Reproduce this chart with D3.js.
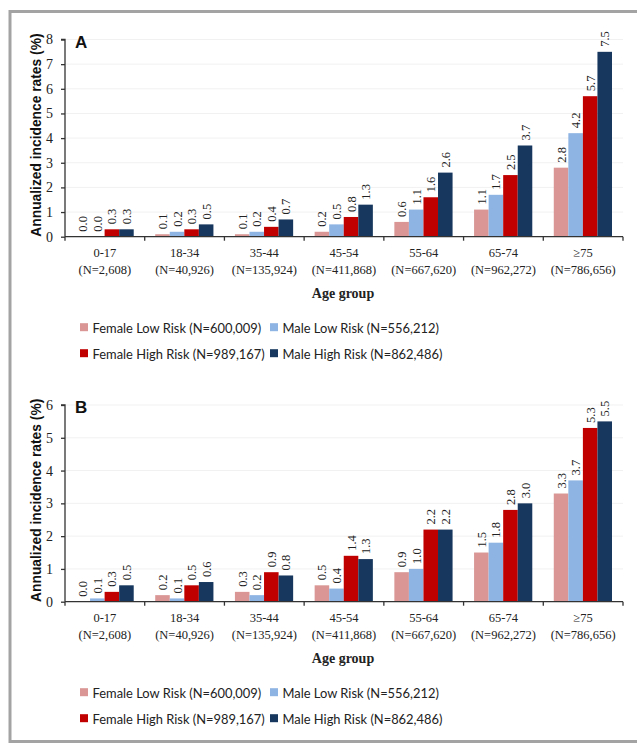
<!DOCTYPE html>
<html>
<head>
<meta charset="utf-8">
<script src="https://cdn.jsdelivr.net/npm/d3@7"></script>
<style>
  html, body { margin: 0; padding: 0; background: #fff; }
  svg { display: block; }
  .tick-label, .value-label, .axis-title-x { font-family: "Liberation Serif", "Times New Roman", serif; fill: #222; }
  .axis-title-y, .panel-letter { font-family: "Liberation Sans", Arial, sans-serif; font-weight: bold; fill: #111; }
  .legend-label { font-family: Lato, "Liberation Sans", sans-serif; fill: #222; }
</style>
</head>
<body>
<svg id="chart" width="637" height="743"></svg>
<script>
// Incidence rates by age group, two panels (A and B)

var ageGroups = ["0-17", "18-34", "35-44", "45-54", "55-64", "65-74", "\u226575"];
var groupNs = ["(N=2,608)", "(N=40,926)", "(N=135,924)", "(N=411,868)",
               "(N=667,620)", "(N=962,272)", "(N=786,656)"];

var seriesNames = [
  "Female Low Risk (N=600,009)",
  "Male Low Risk (N=556,212)",
  "Female High Risk (N=989,167)",
  "Male High Risk (N=862,486)"
];
var seriesColors = ["#d99694", "#8eb4e3", "#c00000", "#17375e"];

// Panel A values, one array per series
var aFemaleLow  = [0.0, 0.1, 0.1, 0.2, 0.6, 1.1, 2.8];
var aMaleLow    = [0.0, 0.2, 0.2, 0.5, 1.1, 1.7, 4.2];
var aFemaleHigh = [0.3, 0.3, 0.4, 0.8, 1.6, 2.5, 5.7];
var aMaleHigh   = [0.3, 0.5, 0.7, 1.3, 2.6, 3.7, 7.5];
var aTicks = [0, 1, 2, 3, 4, 5, 6, 7, 8];

// Panel B values
var bFemaleLow  = [0.0, 0.2, 0.3, 0.5, 0.9, 1.5, 3.3];
var bMaleLow    = [0.1, 0.1, 0.2, 0.4, 1.0, 1.8, 3.7];
var bFemaleHigh = [0.3, 0.5, 0.9, 1.4, 2.2, 2.8, 5.3];
var bMaleHigh   = [0.5, 0.6, 0.8, 1.3, 2.2, 3.0, 5.5];
var bTicks = [0, 1, 2, 3, 4, 5, 6];

var svg = d3.select("#chart");

// grey frame around the whole figure
svg.append("rect")
  .attr("x", 10).attr("y", 11.5)
  .attr("width", 640).attr("height", 730)
  .attr("fill", "none")
  .attr("stroke", "#a3a3a3")
  .attr("stroke-width", 3);

var plotLeft = 65, plotRight = 623;

function drawPanel(opts) {
  var g = svg.append("g");
  var top = opts.top, bottom = opts.bottom;

  var x = d3.scaleBand().domain(ageGroups).range([plotLeft, plotRight]);
  var xs = d3.scaleBand().domain(d3.range(seriesNames.length))
    .range([10.5, x.bandwidth() - 11]);
  var y = d3.scaleLinear().domain([0, d3.max(opts.ticks)]).range([bottom, top]);

  // faint gridlines
  g.selectAll("line.grid")
    .data(opts.ticks.slice(1))
    .enter().append("line")
      .attr("class", "grid")
      .attr("x1", plotLeft).attr("x2", plotRight)
      .attr("y1", function(d) { return y(d); })
      .attr("y2", function(d) { return y(d); })
      .attr("stroke", "#f1f1f1");

  // bars
  var groups = g.selectAll("g.group")
    .data(ageGroups)
    .enter().append("g")
      .attr("class", "group")
      .attr("transform", function(d) { return "translate(" + x(d) + ",0)"; });

  groups.each(function(age, i) {
    var rows = opts.series.map(function(s, k) { return { k: k, v: s[i] }; });
    var gs = d3.select(this);
    gs.selectAll("rect")
      .data(rows)
      .enter().append("rect")
        .attr("x", function(d) { return xs(d.k); })
        .attr("width", xs.bandwidth())
        .attr("y", function(d) { return y(d.v); })
        .attr("height", function(d) { return y(0) - y(d.v); })
        .attr("fill", function(d) { return seriesColors[d.k]; });

    // value labels, rotated to read bottom-up
    gs.selectAll("text.value-label")
      .data(rows)
      .enter().append("text")
        .attr("class", "value-label")
        .attr("font-size", 12.5)
        .attr("text-anchor", "start")
        .attr("transform", function(d) {
          var cx = xs(d.k) + xs.bandwidth() / 2;
          return "translate(" + (cx + 4.5) + "," + (y(d.v) - 5) + ") rotate(-90)";
        })
        .text(function(d) { return d3.format(".1f")(d.v); });
  });

  // y axis
  var yAxis = d3.axisLeft(y).tickValues(opts.ticks)
    .tickFormat(d3.format("d"))
    .tickSize(4).tickPadding(8);
  var ya = g.append("g")
    .attr("transform", "translate(" + plotLeft + ",0)")
    .call(yAxis)
    .attr("font-family", null);
  ya.select(".domain").attr("stroke", "#333").attr("stroke-width", 1.3)
    .attr("d", "M-4," + top + "H0V" + bottom);
  ya.selectAll(".tick line").attr("stroke", "#333").attr("stroke-width", 1.3);
  ya.selectAll(".tick text")
    .attr("class", "tick-label")
    .style("font-family", "'Liberation Serif', 'Times New Roman', serif")
    .attr("font-size", 14)
    .attr("fill", "#333");

  // x axis: baseline with ticks at band boundaries
  g.append("line")
    .attr("x1", plotLeft).attr("x2", plotRight)
    .attr("y1", bottom).attr("y2", bottom)
    .attr("stroke", "#333").attr("stroke-width", 1.3);
  var edges = ageGroups.map(function(d) { return x(d); }).concat([plotRight]);
  g.selectAll("line.xtick")
    .data(edges)
    .enter().append("line")
      .attr("class", "xtick")
      .attr("x1", function(d) { return d; }).attr("x2", function(d) { return d; })
      .attr("y1", bottom).attr("y2", bottom + 4)
      .attr("stroke", "#333").attr("stroke-width", 1.3);

  g.selectAll("text.cat")
    .data(ageGroups)
    .enter().append("text")
      .attr("class", "tick-label cat")
      .attr("font-size", 12.5)
      .attr("text-anchor", "middle")
      .attr("x", function(d) { return x(d) + x.bandwidth() / 2; })
      .attr("y", bottom + 20.5)
      .text(function(d) { return d; });

  g.selectAll("text.ncount")
    .data(groupNs)
    .enter().append("text")
      .attr("class", "tick-label ncount")
      .attr("font-size", 12.5)
      .attr("text-anchor", "middle")
      .attr("x", function(d, i) { return x(ageGroups[i]) + x.bandwidth() / 2; })
      .attr("y", bottom + 37.5)
      .text(function(d) { return d; });

  g.append("text")
    .attr("class", "axis-title-x")
    .attr("font-size", 14)
    .attr("font-weight", "bold")
    .attr("text-anchor", "middle")
    .attr("x", (plotLeft + plotRight) / 2 - 1)
    .attr("y", bottom + 61.5)
    .text("Age group");

  g.append("text")
    .attr("class", "axis-title-y")
    .attr("font-size", 13.8)
    .attr("text-anchor", "middle")
    .attr("transform", "translate(36," + ((top + bottom) / 2 - 3) + ") rotate(-90)")
    .attr("dy", "0.35em")
    .text("Annualized incidence rates (%)");

  g.append("text")
    .attr("class", "panel-letter")
    .attr("font-size", 17)
    .attr("x", 75)
    .attr("y", top + 8)
    .text(opts.letter);

  // legend, two columns by two rows
  var legendCols = [80, 270], legendRows = [bottom + 96, bottom + 122];
  var lg = g.selectAll("g.legend-item")
    .data(seriesNames)
    .enter().append("g")
      .attr("class", "legend-item")
      .attr("transform", function(d, i) {
        return "translate(" + legendCols[i % 2] + "," + legendRows[Math.floor(i / 2)] + ")";
      });
  lg.append("rect")
    .attr("x", 0).attr("y", -9.5)
    .attr("width", 8).attr("height", 8)
    .attr("fill", function(d, i) { return seriesColors[i]; });
  lg.append("text")
    .attr("class", "legend-label")
    .attr("font-size", 12.9)
    .attr("x", 12.5)
    .attr("y", 0)
    .text(function(d) { return d; });
}

drawPanel({
  letter: "A",
  top: 39.5,
  bottom: 236.7,
  ticks: aTicks,
  series: [aFemaleLow, aMaleLow, aFemaleHigh, aMaleHigh]
});

drawPanel({
  letter: "B",
  top: 405,
  bottom: 601.7,
  ticks: bTicks,
  series: [bFemaleLow, bMaleLow, bFemaleHigh, bMaleHigh]
});
</script>
</body>
</html>
